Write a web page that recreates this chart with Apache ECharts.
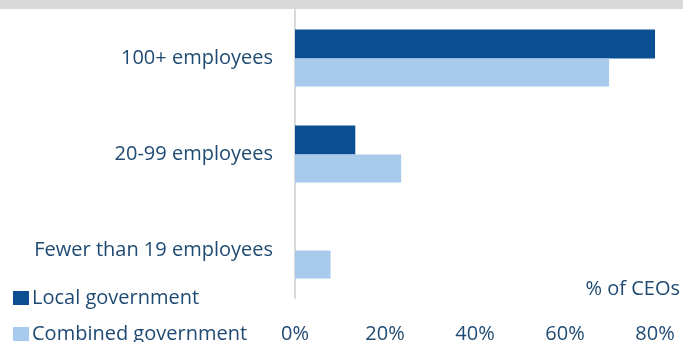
<!DOCTYPE html>
<html>
<head>
<meta charset="utf-8">
<script src="https://cdn.jsdelivr.net/npm/echarts@6/dist/echarts.min.js"></script>
<style>
  html, body { margin: 0; padding: 0; background: #fff; }
  #chart { width: 683px; height: 342px; }
</style>
</head>
<body>
<div id="chart"></div>
<script>
// Firm size bands, top to bottom
const categories = ['100+ employees', '20-99 employees', 'Fewer than 19 employees'];
// Share of CEOs (%) by government type
const localGov = [80, 13.4, 0];
const combinedGov = [69.8, 23.6, 7.9];
const xTicks = [0, 20, 40, 60, 80];
const seriesNames = ['Local government', 'Combined government'];

const textColor = '#1f4a73';
const font = 'Open Sans';

const legendBase = {
  left: 13,
  padding: 0,
  itemWidth: 16,
  itemHeight: 14,
  itemGap: 0,
  icon: 'rect',
  textStyle: { color: textColor, fontSize: 20, fontFamily: font, padding: [0, 0, 0, -2] }
};

const chart = echarts.init(document.getElementById('chart'));
chart.setOption({
  animation: false,
  textStyle: { fontFamily: font },
  graphic: [
    { type: 'rect', left: 0, top: 0, shape: { width: 683, height: 9 }, style: { fill: '#d9d9d9' } },
    { type: 'text', right: 3, top: 279, style: { text: '% of CEOs', fill: textColor, font: '20px "Open Sans"' } }
  ],
  legend: [
    Object.assign({ top: 288, data: [seriesNames[0]] }, legendBase),
    Object.assign({ top: 324, data: [seriesNames[1]] }, legendBase)
  ],
  grid: { left: 295, right: 28, top: 10, bottom: 44, outerBoundsMode: 'none', containLabel: false },
  xAxis: {
    type: 'value',
    min: xTicks[0],
    max: xTicks[xTicks.length - 1],
    interval: 20,
    axisLine: { show: false },
    axisTick: { show: false },
    splitLine: { show: false },
    axisLabel: { color: textColor, fontSize: 20, fontFamily: font, margin: 26, formatter: '{value}%' }
  },
  yAxis: {
    type: 'category',
    inverse: true,
    data: categories,
    axisLine: { show: true, lineStyle: { color: '#d9d9d9', width: 2 } },
    axisTick: { show: false },
    axisLabel: { color: textColor, fontSize: 20, fontFamily: font, margin: 22 }
  },
  series: [
    { name: seriesNames[0], type: 'bar', data: localGov, barWidth: 29, barGap: '0%',
      itemStyle: { color: '#0a4f91' } },
    { name: seriesNames[1], type: 'bar', data: combinedGov, barWidth: 28,
      itemStyle: { color: '#a8caec' } }
  ]
});
</script>
</body>
</html>
